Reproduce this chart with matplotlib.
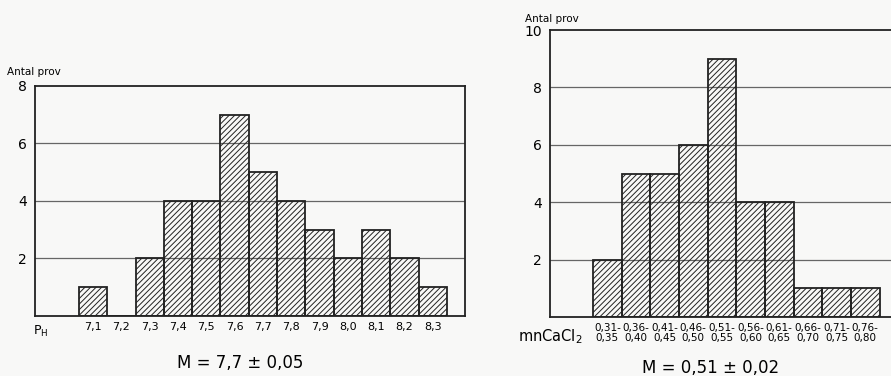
import matplotlib.pyplot as plt

# pH histogram
ph_values = [7.1, 7.2, 7.3, 7.4, 7.5, 7.6, 7.7, 7.8, 7.9, 8.0, 8.1, 8.2, 8.3]
ph_counts = [1, 0, 2, 4, 4, 7, 5, 4, 3, 2, 3, 2, 1]
ph_labels = ['7,1', '7,2', '7,3', '7,4', '7,5', '7,6', '7,7', '7,8', '7,9', '8,0', '8,1', '8,2', '8,3']

# mn CaCl2 histogram
ca_labels = ['0,31-\n0,35', '0,36-\n0,40', '0,41-\n0,45', '0,46-\n0,50', '0,51-\n0,55',
             '0,56-\n0,60', '0,61-\n0,65', '0,66-\n0,70', '0,71-\n0,75', '0,76-\n0,80']
ca_counts = [2, 5, 5, 6, 9, 4, 4, 1, 1, 1]

bg = '#f8f8f7'
plt.rcParams['hatch.linewidth'] = 0.7
plt.rcParams['hatch.color'] = '#333333'

fig = plt.figure(figsize=(8.91, 3.76), dpi=100, facecolor=bg)

# --- left chart
ax1 = fig.add_axes([0.0393, 0.1596, 0.4826, 0.6117])
ax1.set_facecolor(bg)
ax1.bar(ph_values, ph_counts, width=0.1, color='none', edgecolor='#222222',
        hatch='//////', linewidth=1.3, zorder=3)
ax1.set_xlim(6.895, 8.414)
ax1.set_ylim(0, 8)
ax1.set_yticks([2, 4, 6, 8])
ax1.set_yticklabels(['2', '4', '6', '8'], fontsize=10)
ax1.set_xticks(ph_values)
ax1.set_xticklabels(ph_labels, fontsize=8)
ax1.tick_params(length=0, pad=4)
ax1.tick_params(axis='y', pad=6)
for y in [2, 4, 6]:
    ax1.axhline(y, color='#666666', lw=0.9, zorder=1)
for s in ax1.spines.values():
    s.set_linewidth(1.3)
    s.set_color('#222222')
ax1.text(-0.005, -0.035, 'P$_\\mathregular{H}$', transform=ax1.transAxes,
         fontsize=9, va='top', ha='left')
fig.text(0.008, 0.795, 'Antal prov', fontsize=7.5, ha='left', va='bottom')
fig.text(0.27, 0.035, 'M = 7,7 ± 0,05', fontsize=12, ha='center', va='center')

# --- right chart
ax2 = fig.add_axes([0.6173, 0.1569, 0.402, 0.7631])
ax2.set_facecolor(bg)
xpos = list(range(len(ca_counts)))
ax2.bar(xpos, ca_counts, width=1.0, color='none', edgecolor='#222222',
        hatch='//////', linewidth=1.3, zorder=3)
ax2.set_xlim(-2.0, 10.5)
ax2.set_ylim(0, 10)
ax2.set_yticks([2, 4, 6, 8, 10])
ax2.set_yticklabels(['2', '4', '6', '8', '10'], fontsize=10)
ax2.set_xticks(xpos)
ax2.set_xticklabels(ca_labels, fontsize=7.5, linespacing=1.1)
ax2.tick_params(length=0, pad=4)
ax2.tick_params(axis='y', pad=6)
for y in [2, 4, 6, 8]:
    ax2.axhline(y, color='#666666', lw=0.9, zorder=1)
for s in ax2.spines.values():
    s.set_linewidth(1.3)
    s.set_color('#222222')
ax2.text(-0.09, -0.035, 'mnCaCl$_2$', transform=ax2.transAxes,
         fontsize=10.5, va='top', ha='left')
fig.text(0.589, 0.935, 'Antal prov', fontsize=7.5, ha='left', va='bottom')
fig.text(0.797, 0.022, 'M = 0,51 ± 0,02', fontsize=12, ha='center', va='center')

fig.savefig('out.png', dpi=100, facecolor=bg)
